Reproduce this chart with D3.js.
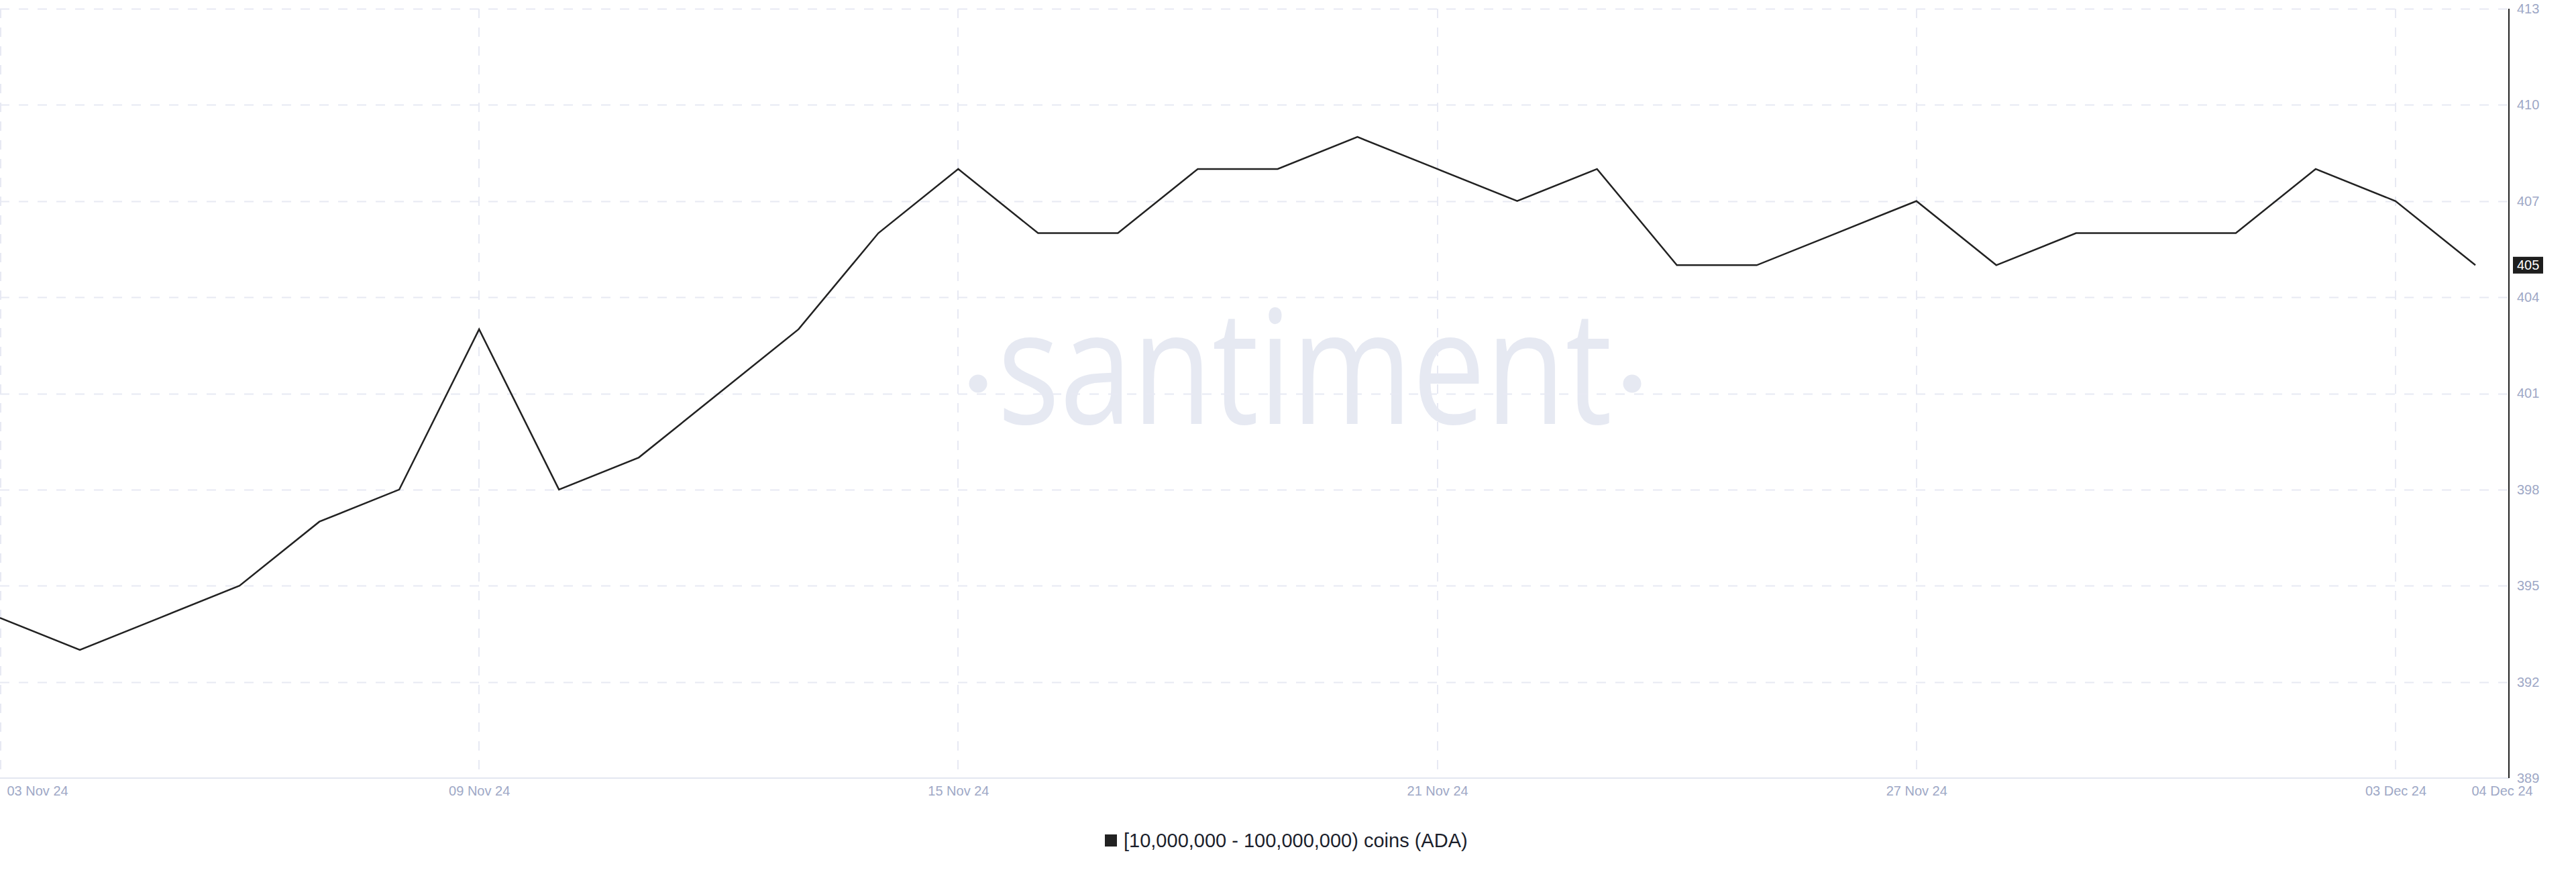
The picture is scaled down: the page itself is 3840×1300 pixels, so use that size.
<!DOCTYPE html>
<html>
<head>
<meta charset="utf-8">
<script src="https://cdn.jsdelivr.net/npm/d3@7"></script>
<style>
  html, body { margin: 0; padding: 0; background: #ffffff; }
  svg { display: block; }
</style>
</head>
<body>
<svg id="chart" width="3840" height="1300"></svg>
<script>
// ---- data ----
const dates = [
  "2024-11-03","2024-11-04","2024-11-05","2024-11-06","2024-11-07","2024-11-08",
  "2024-11-09","2024-11-10","2024-11-11","2024-11-12","2024-11-13","2024-11-14",
  "2024-11-15","2024-11-16","2024-11-17","2024-11-18","2024-11-19","2024-11-20",
  "2024-11-21","2024-11-22","2024-11-23","2024-11-24","2024-11-25","2024-11-26",
  "2024-11-27","2024-11-28","2024-11-29","2024-11-30","2024-12-01","2024-12-02",
  "2024-12-03","2024-12-04"
];
const values = [
  394, 393, 394, 395, 397, 398,
  403, 398, 399, 401, 403, 406,
  408, 406, 406, 408, 408, 409,
  408, 407, 408, 405, 405, 406,
  407, 405, 406, 406, 406, 408,
  407, 405
];
const xTickDates = ["2024-11-03","2024-11-09","2024-11-15","2024-11-21","2024-11-27","2024-12-03","2024-12-04"];
const xGridDates = ["2024-11-03","2024-11-09","2024-11-15","2024-11-21","2024-11-27","2024-12-03"];
const yTicks = [389, 392, 395, 398, 401, 404, 407, 410, 413];
const seriesName = "[10,000,000 - 100,000,000) coins (ADA)";
const watermark = "santiment";

// ---- setup ----
const parse = d3.utcParse("%Y-%m-%d");
const data = dates.map((d, i) => ({ date: parse(d), value: values[i] }));

const svg = d3.select("#chart");
const plotLeft = 0, plotRight = 3690, axisX = 3740;
const plotTop = 13, plotBottom = 1160;

const x = d3.scaleUtc()
  .domain([parse(dates[0]), parse(dates[dates.length - 1])])
  .range([plotLeft, plotRight]);
const y = d3.scaleLinear()
  .domain([389, 413])
  .range([plotBottom, plotTop]);

const gridColor = "#e7e9f3";
const labelColor = "#9ea8c6";
const fontFamily = "'Liberation Sans', Arial, Helvetica, sans-serif";

svg.append("rect").attr("width", 3840).attr("height", 1300).attr("fill", "#ffffff");

// ---- watermark ----
const wm = svg.append("g").attr("class", "watermark");
wm.append("text")
  .attr("x", 1487).attr("y", 632)
  .attr("font-family", "'Open Sans', sans-serif")
  .attr("font-size", 236)
  .attr("textLength", 916)
  .attr("lengthAdjust", "spacingAndGlyphs")
  .attr("fill", "#e6e9f2")
  .text(watermark);
wm.append("circle").attr("cx", 1458).attr("cy", 572).attr("r", 13.5).attr("fill", "#e6e9f2");
wm.append("circle").attr("cx", 2433).attr("cy", 572).attr("r", 13.5).attr("fill", "#e6e9f2");

// ---- grid ----
const grid = svg.append("g").attr("class", "grid");
grid.selectAll("line.h")
  .data(yTicks.filter(v => v !== 389))
  .join("line")
  .attr("class", "h")
  .attr("x1", plotLeft).attr("x2", axisX)
  .attr("y1", d => Math.round(y(d)) + 0.5).attr("y2", d => Math.round(y(d)) + 0.5)
  .attr("stroke", gridColor).attr("stroke-width", 2)
  .attr("stroke-dasharray", "14,14");
grid.selectAll("line.v")
  .data(xGridDates.map(parse))
  .join("line")
  .attr("class", "v")
  .attr("x1", d => Math.max(1, Math.round(x(d)))).attr("x2", d => Math.max(1, Math.round(x(d))))
  .attr("y1", plotTop).attr("y2", plotBottom)
  .attr("stroke", gridColor).attr("stroke-width", 2)
  .attr("stroke-dasharray", "14,14");

// x baseline
svg.append("line")
  .attr("x1", plotLeft).attr("x2", axisX)
  .attr("y1", plotBottom).attr("y2", plotBottom)
  .attr("stroke", "#e3e6f0").attr("stroke-width", 2);

// ---- x axis ----
const xAxis = d3.axisBottom(x)
  .tickValues(xTickDates.map(parse))
  .tickFormat(d3.utcFormat("%d %b %y"))
  .tickSize(0)
  .tickPadding(12);
const gx = svg.append("g")
  .attr("transform", `translate(0,${plotBottom})`)
  .call(xAxis);
gx.select(".domain").remove();
gx.selectAll("text")
  .attr("fill", labelColor)
  .attr("font-family", fontFamily)
  .attr("font-size", 20);
gx.selectAll(".tick").filter((d, i) => i === 0).select("text")
  .attr("text-anchor", "start").attr("x", 10);
gx.selectAll(".tick").filter((d, i, n) => i === n.length - 1).select("text")
  .attr("text-anchor", "start").attr("x", -6);

// ---- y axis ----
const yAxis = d3.axisRight(y)
  .tickValues(yTicks)
  .tickFormat(d3.format("d"))
  .tickSize(0)
  .tickPadding(12);
const gy = svg.append("g")
  .attr("transform", `translate(${axisX},0)`)
  .call(yAxis);
gy.select(".domain").remove();
gy.selectAll("text")
  .attr("fill", labelColor)
  .attr("font-family", fontFamily)
  .attr("font-size", 20);
svg.append("line")
  .attr("x1", axisX).attr("x2", axisX)
  .attr("y1", plotTop).attr("y2", plotBottom)
  .attr("stroke", "#222222").attr("stroke-width", 2);

// ---- line ----
const line = d3.line()
  .x(d => x(d.date))
  .y(d => y(d.value));
svg.append("path")
  .datum(data)
  .attr("d", line)
  .attr("fill", "none")
  .attr("stroke", "#222222")
  .attr("stroke-width", 2.5)
  .attr("stroke-linejoin", "miter");

// ---- last value badge ----
const last = data[data.length - 1];
const by = y(last.value);
svg.append("rect")
  .attr("x", axisX + 6).attr("y", by - 12.5)
  .attr("width", 45).attr("height", 25)
  .attr("fill", "#1e1e1e");
svg.append("text")
  .attr("x", axisX + 12).attr("y", by)
  .attr("dy", "0.35em")
  .attr("fill", "#ffffff")
  .attr("font-family", fontFamily)
  .attr("font-size", 20)
  .text(d3.format("d")(last.value));

// ---- legend ----
const lg = svg.append("g").attr("class", "legend");
lg.append("rect")
  .attr("x", 1647).attr("y", 1244)
  .attr("width", 18).attr("height", 18)
  .attr("fill", "#222222");
lg.append("text")
  .attr("x", 1675).attr("y", 1262.5)
  .attr("fill", "#1c1f2c")
  .attr("font-family", fontFamily)
  .attr("font-size", 29)
  .text(seriesName);
</script>
</body>
</html>
